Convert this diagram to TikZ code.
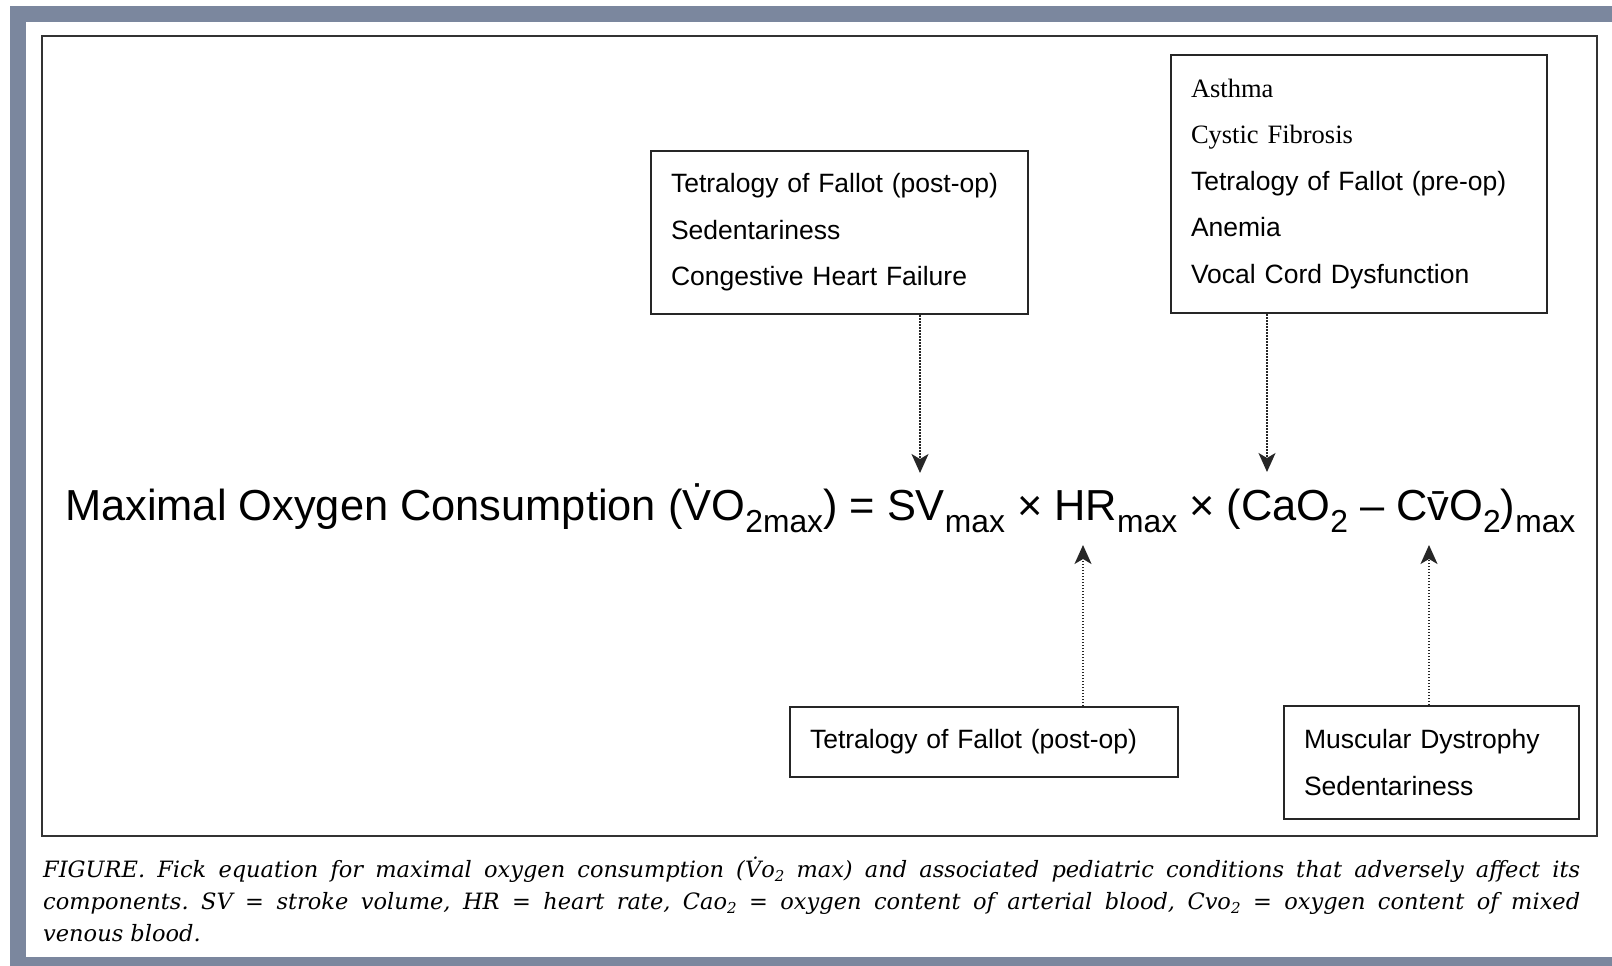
\documentclass[tikz,border=0pt]{standalone}
\usepackage{fontspec}
\setmainfont{Liberation Sans}
\newfontfamily\boxserif{Liberation Serif}
\newfontfamily\capserif{DejaVu Serif}
\usetikzlibrary{arrows.meta}
\definecolor{framegrey}{RGB}{123,135,158}
\newcommand\eqsub[1]{\raisebox{-12pt}{\fontsize{31.8}{34}\selectfont #1}}
\newcommand\capsub[1]{\raisebox{-4pt}{\fontsize{15}{16}\selectfont #1}}
\frenchspacing
\begin{document}
\begin{tikzpicture}[x=1pt,y=-1pt,
  cond/.style={draw=black!85, line width=2pt, anchor=north west, inner xsep=20pt, inner ysep=0pt, align=left, font=\fontsize{26.5}{46.5}\selectfont},
  arr/.style={line width=1.6pt, dash pattern=on 1.5pt off 1.5pt, black!85, -{Stealth[length=19pt,width=17pt,inset=5pt]}}]
\useasboundingbox (0,0) rectangle (1612,966);
\fill[framegrey] (10,6) rectangle (1612,966);
\fill[white] (26,22) rectangle (1612,957);
\draw[line width=2.5pt, black!80] (42,36) rectangle (1597,836);

\node[cond, text width=337pt, minimum height=163pt] (svbox) at (650,150) {Tetralogy of Fallot (post-op)\\Sedentariness\\Congestive Heart Failure};
\node[cond, text width=336pt, minimum height=258pt] (cabox) at (1170,54) {{\boxserif Asthma}\\{\boxserif Cystic Fibrosis}\\Tetralogy of Fallot (pre-op)\\Anemia\\Vocal Cord Dysfunction};
\node[cond, text width=348pt, minimum height=70pt] (hrbox) at (789,706) {Tetralogy of Fallot (post-op)};
\node[cond, text width=255pt, minimum height=113pt] (cvbox) at (1283,705) {Muscular Dystrophy\\Sedentariness};

\node[anchor=base west, inner sep=0pt, font=\fontsize{43.4}{50}\selectfont] (eq) at (65,520) {Maximal Oxygen Consumption (\.VO\eqsub{2max}) = SV\eqsub{max} × HR\eqsub{max} × (CaO\eqsub{2} – C\={v}O\eqsub{2})\eqsub{max}};

\coordinate (svtip) at (920,473);
\coordinate (catip) at (1267,472);
\coordinate (hrtip) at (1083,545);
\coordinate (cvtip) at (1429,545);
\draw[arr] (svbox.south -| svtip) -- (svtip);
\draw[arr] (cabox.south -| catip) -- (catip);
\draw[arr] (hrbox.north -| hrtip) -- (hrtip);
\draw[arr] (cvbox.north -| cvtip) -- (cvtip);

\node[anchor=north west, inner sep=0pt, text width=1537pt, align=justify, font=\capserif\itshape\fontsize{22.5}{32}\selectfont] (cap) at (43,857) {FIGURE. Fick equation for maximal oxygen consumption (\.V{}o\capsub{2} max) and associated pediatric conditions that adversely affect its\linebreak components. SV = stroke volume, HR = heart rate, Cao\capsub{2} = oxygen content of arterial blood, Cvo\capsub{2} = oxygen content of mixed\linebreak venous blood.};
\end{tikzpicture}
\end{document}
